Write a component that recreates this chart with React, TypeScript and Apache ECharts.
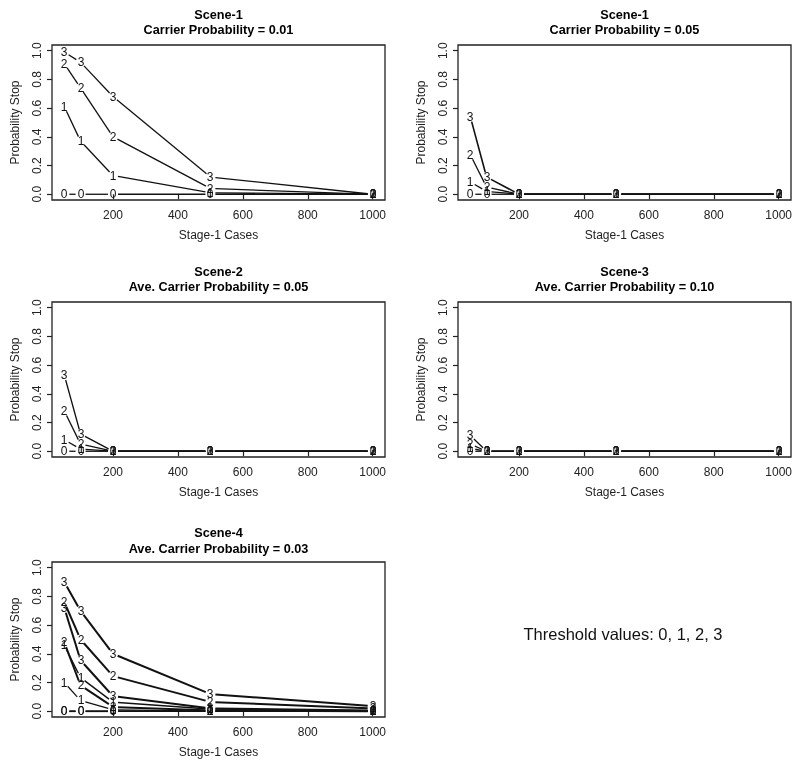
import React, { useEffect, useRef } from "react";
import * as echarts from "echarts";

// ---------- data ----------
const stageCases = [50, 100, 200, 500, 1000];
const xTicks = [200, 400, 600, 800, 1000];
const yTicks = [0, 0.2, 0.4, 0.6, 0.8, 1.0];
const thresholdLabels = ["0", "1", "2", "3"];

// Scene-1, carrier probability 0.01
const s1a_t0 = [0, 0, 0, 0, 0];
const s1a_t1 = [0.61, 0.37, 0.13, 0.01, 0];
const s1a_t2 = [0.91, 0.74, 0.4, 0.04, 0];
const s1a_t3 = [0.99, 0.92, 0.68, 0.12, 0];

// Scene-1, carrier probability 0.05
const s1b_t0 = [0, 0, 0, 0, 0];
const s1b_t1 = [0.085, 0.02, 0, 0, 0];
const s1b_t2 = [0.275, 0.05, 0, 0, 0];
const s1b_t3 = [0.54, 0.12, 0, 0, 0];

// Scene-2, ave. carrier probability 0.05
const s2_t0 = [0, 0, 0, 0, 0];
const s2_t1 = [0.08, 0.015, 0, 0, 0];
const s2_t2 = [0.28, 0.05, 0, 0, 0];
const s2_t3 = [0.53, 0.12, 0, 0, 0];

// Scene-3, ave. carrier probability 0.10
const s3_t0 = [0, 0, 0, 0, 0];
const s3_t1 = [0.02, 0, 0, 0, 0];
const s3_t2 = [0.05, 0, 0, 0, 0];
const s3_t3 = [0.11, 0, 0, 0, 0];

// Scene-4, ave. carrier probability 0.03 (two sub-cases)
const s4a_t0 = [0, 0, 0, 0, 0];
const s4a_t1 = [0.46, 0.234, 0.064, 0.015, 0.003];
const s4a_t2 = [0.76, 0.5, 0.245, 0.065, 0.02];
const s4a_t3 = [0.9, 0.7, 0.4, 0.12, 0.035];
const s4b_t0 = [0, 0, 0, 0, 0];
const s4b_t1 = [0.2, 0.075, 0.01, 0, 0];
const s4b_t2 = [0.48, 0.18, 0.03, 0.005, 0];
const s4b_t3 = [0.72, 0.355, 0.105, 0.02, 0.005];

const panelTitles = [
  "Scene-1\nCarrier Probability = 0.01",
  "Scene-1\nCarrier Probability = 0.05",
  "Scene-2\nAve. Carrier Probability = 0.05",
  "Scene-3\nAve. Carrier Probability = 0.10",
  "Scene-4\nAve. Carrier Probability = 0.03",
];
const noteText = "Threshold values: 0, 1, 2, 3";

// ---------- layout ----------
const FONT = "'Liberation Sans', Arial, Helvetica, sans-serif";
const GAP = 5;
const boxes = [
  { left: 52, top: 45 },
  { left: 458, top: 45 },
  { left: 52, top: 302 },
  { left: 458, top: 302 },
  { left: 52, top: 562 },
];
const BOX_W = 333;
const BOX_H = 155;
const titleTops = [7, 7, 264, 264, 525.5];
const W = 1.3;
const WB = 2;

const panelLines: { label: string; values: number[]; width: number }[][] = [
  [
    { label: thresholdLabels[0], values: s1a_t0, width: W },
    { label: thresholdLabels[1], values: s1a_t1, width: W },
    { label: thresholdLabels[2], values: s1a_t2, width: W },
    { label: thresholdLabels[3], values: s1a_t3, width: W },
  ],
  [
    { label: thresholdLabels[0], values: s1b_t0, width: W },
    { label: thresholdLabels[1], values: s1b_t1, width: W },
    { label: thresholdLabels[2], values: s1b_t2, width: W },
    { label: thresholdLabels[3], values: s1b_t3, width: 1.6 },
  ],
  [
    { label: thresholdLabels[0], values: s2_t0, width: W },
    { label: thresholdLabels[1], values: s2_t1, width: W },
    { label: thresholdLabels[2], values: s2_t2, width: W },
    { label: thresholdLabels[3], values: s2_t3, width: W },
  ],
  [
    { label: thresholdLabels[0], values: s3_t0, width: W },
    { label: thresholdLabels[1], values: s3_t1, width: W },
    { label: thresholdLabels[2], values: s3_t2, width: W },
    { label: thresholdLabels[3], values: s3_t3, width: W },
  ],
  [
    { label: thresholdLabels[0], values: s4a_t0, width: 1.6 },
    { label: thresholdLabels[1], values: s4a_t1, width: 1.4 },
    { label: thresholdLabels[2], values: s4a_t2, width: WB },
    { label: thresholdLabels[3], values: s4a_t3, width: WB },
    { label: thresholdLabels[0], values: s4b_t0, width: 1.6 },
    { label: thresholdLabels[1], values: s4b_t1, width: 1.2 },
    { label: thresholdLabels[2], values: s4b_t2, width: WB },
    { label: thresholdLabels[3], values: s4b_t3, width: WB },
  ],
];

function makeRenderItem(label: string, lineWidth: number) {
  return (params: any, api: any) => {
    const x = api.value(0);
    const y = api.value(1);
    const hasPrev = api.value(4);
    const p = api.coord([x, y]);
    const children: any[] = [];
    if (hasPrev) {
      const q = api.coord([api.value(2), api.value(3)]);
      const dx = p[0] - q[0];
      const dy = p[1] - q[1];
      const len = Math.hypot(dx, dy);
      if (len > 2 * GAP) {
        const ux = dx / len;
        const uy = dy / len;
        children.push({
          type: "line",
          shape: {
            x1: q[0] + ux * GAP,
            y1: q[1] + uy * GAP,
            x2: p[0] - ux * GAP,
            y2: p[1] - uy * GAP,
          },
          style: { stroke: "#111", lineWidth, fill: "none" },
        });
      }
    }
    children.push({
      type: "text",
      x: Math.round(p[0]),
      y: Math.round(p[1]),
      style: {
        text: label,
        fill: "#111",
        stroke: "none",
        lineWidth: 0,
        fontSize: 12,
        fontFamily: FONT,
        align: "center",
        verticalAlign: "middle",
      },
    });
    return { type: "group", children };
  };
}

export default function App() {
  const ref = useRef<HTMLDivElement>(null);
  useEffect(() => {
    if (!ref.current) return;
    const chart = echarts.init(ref.current, undefined, { renderer: "svg" });

    const grid = boxes.map((b) => ({
      left: b.left,
      top: b.top,
      width: BOX_W,
      height: BOX_H,
      show: true,
      borderColor: "#222",
      borderWidth: 1.3,
      backgroundColor: "transparent",
      containLabel: false,
    }));

    const xAxis = boxes.map((_, i) => ({
      gridIndex: i,
      type: "value",
      min: 12,
      max: 1038,
      name: "Stage-1 Cases",
      nameLocation: "middle",
      nameGap: 29,
      nameTextStyle: { fontSize: 12, color: "#222", fontFamily: FONT },
      axisLine: { show: false },
      axisTick: {
        show: true,
        customValues: xTicks,
        length: 5,
        inside: false,
        lineStyle: { color: "#222", width: 1.2 },
      },
      axisLabel: {
        show: true,
        customValues: xTicks,
        fontSize: 12,
        color: "#222",
        fontFamily: FONT,
        margin: 9,
        formatter: (v: number) => String(v),
      },
      splitLine: { show: false },
    }));

    const yAxis = boxes.map((_, i) => ({
      gridIndex: i,
      type: "value",
      min: -0.04,
      max: 1.04,
      name: "Probability Stop",
      nameLocation: "middle",
      nameRotate: 90,
      nameGap: 31,
      nameTextStyle: { fontSize: 12, color: "#222", fontFamily: FONT },
      axisLine: { show: false },
      axisTick: {
        show: true,
        customValues: yTicks,
        length: 5,
        inside: false,
        lineStyle: { color: "#222", width: 1.2 },
      },
      axisLabel: {
        show: true,
        customValues: yTicks,
        rotate: 90,
        fontSize: 12,
        color: "#222",
        fontFamily: FONT,
        margin: 9,
        formatter: (v: number) => v.toFixed(1),
      },
      splitLine: { show: false },
    }));

    const title = panelTitles.map((t, i) => ({
      text: t,
      left: boxes[i].left + BOX_W / 2,
      top: titleTops[i],
      textAlign: "center",
      padding: 0,
      textStyle: {
        fontSize: 12.7,
        fontWeight: "bold",
        lineHeight: 15.5,
        color: "#000",
        fontFamily: FONT,
      },
    }));

    const series: any[] = [];
    panelLines.forEach((lines, i) => {
      lines.forEach((ln) => {
        series.push({
          type: "custom",
          coordinateSystem: "cartesian2d",
          xAxisIndex: i,
          yAxisIndex: i,
          clip: false,
          silent: true,
          color: "#000",
          itemStyle: { color: "#000" },
          encode: { x: 0, y: 1 },
          renderItem: makeRenderItem(ln.label, ln.width),
          data: stageCases.map((x, k) => [
            x,
            ln.values[k],
            k > 0 ? stageCases[k - 1] : x,
            k > 0 ? ln.values[k - 1] : ln.values[k],
            k > 0 ? 1 : 0,
          ]),
        });
      });
    });

    chart.setOption({
      animation: false,
      backgroundColor: "#fff",
      color: ["#000"],
      title,
      grid,
      xAxis,
      yAxis,
      series,
      graphic: [
        {
          type: "text",
          x: 623,
          y: 634,
          style: {
            text: noteText,
            fontSize: 16.5,
            fontFamily: FONT,
            fill: "#111",
            align: "center",
            verticalAlign: "middle",
          },
        },
      ],
    });
    return () => chart.dispose();
  }, []);
  return (
    <div
      ref={ref}
      style={{
        position: "fixed",
        left: 0,
        top: 0,
        width: 800,
        height: 769,
        background: "#fff",
        filter: "grayscale(1)",
      }}
    />
  );
}
